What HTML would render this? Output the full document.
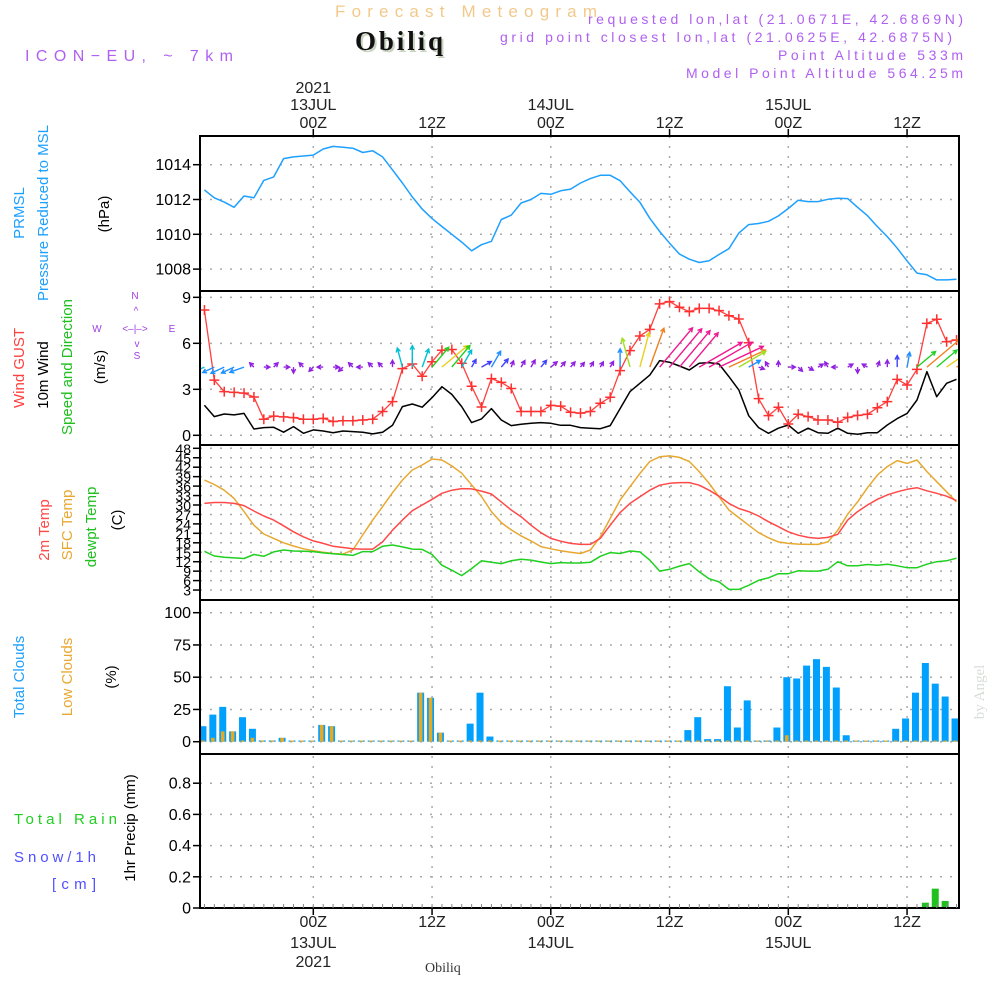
<!DOCTYPE html>
<html><head><meta charset="utf-8"><style>
html,body{margin:0;padding:0;background:#fff;}
svg{display:block;font-family:"Liberation Sans",sans-serif;}
</style></head><body>
<svg id="chart" width="1000" height="1000" viewBox="0 0 1000 1000" xmlns="http://www.w3.org/2000/svg">
<defs>
<clipPath id="clipAll"><rect x="200" y="136" width="759" height="772"/></clipPath>
</defs>
<g>
<text x="335" y="17" textLength="262" font-size="17" fill="#f2c98a">Forecast Meteogram</text>
<text x="357" y="52" textLength="88" font-family="Liberation Serif,serif" font-weight="bold" font-size="27" fill="#c8d4c0">Obiliq</text>
<text x="355" y="50" textLength="88" font-family="Liberation Serif,serif" font-weight="bold" font-size="27" fill="#111">Obiliq</text>
<text x="25" y="61" textLength="208" font-size="16" fill="#b060f0">ICON−EU, ~ 7km</text>
<text x="588" y="24" textLength="375" font-size="14" fill="#b060f0">requested lon,lat (21.0671E, 42.6869N)</text>
<text x="500" y="42" textLength="452" font-size="14" fill="#b060f0">grid point closest lon,lat (21.0625E, 42.6875N)</text>
<text x="778" y="60" textLength="185" font-size="14" fill="#b060f0">Point Altitude 533m</text>
<text x="686" y="78" textLength="277" font-size="14" fill="#b060f0">Model Point Altitude 564.25m</text>
</g>
<g font-size="15">
<text transform="translate(24,213) rotate(-90)" text-anchor="middle" fill="#1ea0ff">PRMSL</text>
<text transform="translate(48,213) rotate(-90)" text-anchor="middle" fill="#1ea0ff">Pressure Reduced to MSL</text>
<text transform="translate(109,214) rotate(-90)" text-anchor="middle" fill="#000">(hPa)</text>
<text transform="translate(24,368) rotate(-90)" text-anchor="middle" fill="#ff4040">Wind GUST</text>
<text transform="translate(48,375) rotate(-90)" text-anchor="middle" fill="#000">10m Wind</text>
<text transform="translate(72,367) rotate(-90)" text-anchor="middle" fill="#20c020">Speed and Direction</text>
<text transform="translate(105,367) rotate(-90)" text-anchor="middle" fill="#000">(m/s)</text>
<g fill="#a040e0" font-size="10" text-anchor="middle">
<text x="135" y="299">N</text><text x="136" y="314">^</text><text x="97" y="332">W</text><text x="135" y="332">&lt;–|–&gt;</text><text x="172" y="332">E</text><text x="137" y="347">v</text><text x="137" y="359">S</text>
</g>
<text transform="translate(49,530) rotate(-90)" text-anchor="middle" fill="#ff4848">2m Temp</text>
<text transform="translate(72,525) rotate(-90)" text-anchor="middle" fill="#e8a830">SFC Temp</text>
<text transform="translate(96,527) rotate(-90)" text-anchor="middle" fill="#20c020">dewpt Temp</text>
<text transform="translate(122,520) rotate(-90)" text-anchor="middle" fill="#000">(C)</text>
<text transform="translate(24,677) rotate(-90)" text-anchor="middle" fill="#1ea0ff">Total Clouds</text>
<text transform="translate(72,677) rotate(-90)" text-anchor="middle" fill="#e8a830">Low Clouds</text>
<text transform="translate(116,677) rotate(-90)" text-anchor="middle" fill="#000">(%)</text>
<text x="14" y="824" textLength="103" fill="#20d020">Total   Rain</text>
<text x="14" y="862" textLength="82" fill="#5050ff">Snow/1h</text>
<text x="52" y="889" textLength="44" fill="#5050ff">[cm]</text>
<text transform="translate(135,828) rotate(-90)" text-anchor="middle" fill="#000">1hr Precip (mm)</text>
</g>
<g id="grid"></g>
<g id="marks" clip-path="url(#clipAll)"></g>
<g id="axes"></g>
<text transform="translate(984,692) rotate(-90)" text-anchor="middle" font-family="Liberation Serif,serif" font-size="15" fill="#d8ddd8">by Angel</text>
<text x="425" y="972" font-family="Liberation Serif,serif" font-size="14" fill="#333">Obiliq</text>
</svg>
<script>
const hours = Array.from({length:77},(_,i)=>i-11);
const pressure = [1012.55,1012.1,1011.85,1011.55,1012.2,1012.1,1013.1,1013.3,1014.35,1014.45,1014.5,1014.55,1014.9,1015.05,1015.0,1014.95,1014.7,1014.8,1014.45,1013.7,1012.95,1012.15,1011.45,1010.9,1010.45,1010.0,1009.55,1009.05,1009.4,1009.6,1010.85,1011.1,1011.8,1012.0,1012.35,1012.3,1012.5,1012.6,1012.95,1013.2,1013.39,1013.39,1013.08,1012.45,1011.84,1010.92,1010.16,1009.49,1008.86,1008.57,1008.38,1008.48,1008.84,1009.17,1010.07,1010.56,1010.62,1010.75,1011.06,1011.48,1011.96,1011.88,1011.88,1012.01,1012.07,1012.05,1011.55,1011.07,1010.44,1009.87,1009.2,1008.47,1007.77,1007.67,1007.38,1007.38,1007.42];
const gust = [8.17,3.6,2.85,2.8,2.75,2.5,1.05,1.25,1.2,1.15,1.05,1.05,1.1,0.9,0.95,0.95,1.0,1.05,1.55,2.2,4.35,4.65,3.85,4.8,5.55,5.6,4.7,3.2,1.85,3.7,3.45,3.05,1.55,1.55,1.55,1.95,1.9,1.5,1.45,1.55,2.09,2.48,4.22,5.52,6.48,6.91,8.57,8.72,8.35,8.07,8.28,8.28,8.13,7.8,7.59,6.04,2.39,1.28,1.83,0.74,1.37,1.22,1.0,1.0,0.85,1.17,1.3,1.37,1.8,2.2,3.65,3.28,4.3,7.3,7.57,6.1,6.22];
const wind10 = [1.96,1.22,1.39,1.33,1.43,0.41,0.5,0.52,0.2,0.57,0.13,0.35,0.28,0.17,0.28,0.24,0.2,0.09,0.2,0.65,1.87,2.04,1.83,2.46,3.17,2.67,1.87,0.83,1.07,1.74,1.0,0.63,0.72,0.78,0.83,0.78,0.65,0.65,0.5,0.46,0.43,0.63,1.74,2.85,3.39,3.93,4.87,4.76,4.52,4.26,4.7,4.74,4.65,3.83,2.96,1.28,0.5,0.13,0.46,0.67,0.13,0.46,0.17,0.13,0.46,0.13,0.07,0.17,0.17,0.67,1.09,1.43,2.3,4.15,2.52,3.39,3.65];
const windDir = [245,245,245,245,250,315,90,45,90,180,315,225,270,90,225,315,270,315,315,0,345,0,20,40,50,40,30,30,60,30,40,20,30,30,40,50,40,40,40,30,30,30,0,345,15,20,40,40,40,40,60,60,65,65,60,60,110,330,0,90,135,120,60,330,270,60,180,300,20,0,0,10,50,50,50,55,60];
const temp2m = [30.5,30.8,30.8,30.5,29.8,28.1,26.5,25.2,23.4,21.5,19.9,18.6,17.8,16.9,16.5,16.1,16.0,16.0,18.3,22.0,25.2,28.2,30.0,31.8,33.7,34.7,35.2,35.1,34.4,33.5,31.0,28.4,26.3,23.6,21.2,19.4,18.5,17.8,17.5,17.5,19.4,23.6,27.6,30.5,32.6,34.7,36.3,36.9,37.1,37.1,36.3,34.7,32.8,30.5,28.9,27.9,26.5,24.7,23.1,21.5,20.4,19.7,19.4,19.7,20.7,25.2,27.9,30.0,31.8,33.2,34.2,35.0,35.5,34.5,33.7,32.8,31.4];
const tempSfc = [37.9,36.5,34.7,32.1,27.9,23.6,20.8,19.4,18.0,17.0,16.1,15.5,15.0,14.6,14.4,15.7,20.5,25.2,29.5,33.9,37.9,41.1,42.7,44.6,44.3,42.4,40.1,36.4,32.7,27.9,24.4,22.1,20.2,18.6,16.8,16.1,15.5,15.0,14.6,15.7,19.9,25.7,31.6,35.8,40.0,43.8,45.3,45.6,45.1,43.8,40.6,36.9,32.6,28.4,26.0,23.6,21.2,19.6,18.3,17.8,17.6,17.5,17.5,18.3,22.0,27.1,31.0,35.5,39.5,42.2,44.1,43.2,44.3,40.6,37.4,34.2,31.0];
const dewpt = [15.3,13.8,13.4,13.2,13.0,14.3,13.7,15.1,15.7,15.4,15.3,15.2,14.8,14.5,14.3,14.0,15.2,15.2,16.9,17.3,16.7,16.0,15.9,14.3,10.9,9.3,7.6,9.8,12.3,11.8,11.4,12.3,12.8,12.5,11.9,11.4,11.7,11.6,11.6,11.8,13.7,14.9,14.6,15.4,15.1,12.5,9.0,9.6,10.6,11.4,8.8,6.6,5.6,3.2,3.2,4.5,6.1,6.9,8.2,8.2,9.1,9.0,9.0,9.6,12.0,10.7,10.7,11.1,10.9,11.2,10.7,10.1,10.1,11.2,12.0,12.3,13.1];
const totalCloud = [12,21,27,8,19,10,1,1,3,0,0,0,13,12,0,0,0,0,0,0,0,0,38,34,7,0,0,14,38,4,0,0,0,0,0,0,0,0,0,0,0,0,0,0,0,0,0,0,0,9,19,2,2,43,11,32,0.5,1,11,50,49,59,64,58,42,5,0,0,0,0,10,18,38,61,45,35,18];
const lowCloud = [0,3,8,8,0,3,0.5,0.5,3,0,0,0,13,12,0,0,0,0,0,0,0,0,38,34,7,0,0,0,0,0,0,0,0,0,0,0,0,0,0,0,0,0,0,0,0,0,0,0,0,0,0,0,0,0,0,0,0,0,1,5,0,0,0,0,0,0,0,0,0,0,0,0,0,0,0,0,0];
const precip = [0,0,0,0,0,0,0,0,0,0,0,0,0,0,0,0,0,0,0,0,0,0,0,0,0,0,0,0,0,0,0,0,0,0,0,0,0,0,0,0,0,0,0,0,0,0,0,0,0,0,0,0,0,0,0,0,0,0,0,0,0,0,0,0,0,0,0,0,0,0,0,0,0,0.034,0.124,0.045,0.006];
const pTicks = [1008,1010,1012,1014];
const wTicks = [0,3,6,9];
const tTicks = [3,6,9,12,15,18,21,24,27,30,33,36,39,42,45,48];
const cTicks = [0,25,50,75,100];
const rTicks = [0,0.2,0.4,0.6,0.8];
const timeTickHours = [0,12,24,36,48,60];
const timeTickLabels = ['00Z','12Z','00Z','12Z','00Z','12Z'];
const dateLabels = ['13JUL','','14JUL','','15JUL',''];

const NS='http://www.w3.org/2000/svg';
const X0=200, X1=959;
const xS = h => 313.3 + h*9.896;
const yP = p => 164.7 + (1014-p)*17.4;
const yW = w => 435.3 - w*15.33;
const yT = t => 448.3 + (48-t)*3.15;
const yC = c => 741.7 - c*1.29;
const yR = r => 908 - r*156;
const panels = [
 {top:136,bot:291,ticks:pTicks,y:yP,fmt:v=>String(v),name:'pressure'},
 {top:291,bot:445,ticks:wTicks,y:yW,fmt:v=>String(v),name:'wind'},
 {top:445,bot:600,ticks:tTicks,y:yT,fmt:v=>String(v),name:'temp'},
 {top:600,bot:754,ticks:cTicks,y:yC,fmt:v=>String(v),name:'cloud'},
 {top:754,bot:908,ticks:rTicks,y:yR,fmt:v=>v===0?'0':v.toFixed(1),name:'precip'}
];
function mk(tag,attrs,parent,txt){const e=document.createElementNS(NS,tag);for(const k in attrs)e.setAttribute(k,attrs[k]);if(txt!==undefined)e.textContent=txt;parent.appendChild(e);return e;}
const grid=document.getElementById('grid'), marks=document.getElementById('marks'), axes=document.getElementById('axes');

panels.forEach(p=>{
  p.ticks.forEach(v=>{
    const y=p.y(v);
    if(y>p.top+3 && y<p.bot-3){
      const gl=mk('line',{x1:X0,x2:X1,y1:y,y2:y,stroke:'#aaa','stroke-width':1.5,'stroke-dasharray':'2,8'},grid);
      
      
    }
    const tk=mk('line',{x1:X0-7,x2:X0,y1:y,y2:y,stroke:'#000','stroke-width':1.5},axes);
    
    
    const tl=mk('text',{x:X0-9,y:y+5.5,'text-anchor':'end','font-size':p.name==='temp'?14:16,fill:'#000'},axes,p.fmt(v));
    
    
  });
  const fr=mk('rect',{x:X0,y:p.top,width:X1-X0,height:p.bot-p.top,fill:'none',stroke:'#000','stroke-width':2},axes);
  
  
});
timeTickHours.forEach((h,k)=>{
  const x=xS(h);
  const vl=mk('line',{x1:x,x2:x,y1:136,y2:908,stroke:'#aaa','stroke-width':1.5,'stroke-dasharray':'2,8'},grid);
  
  
  const t1=mk('line',{x1:x,x2:x,y1:129,y2:136,stroke:'#000','stroke-width':1.5},axes);
  
  
  const t2=mk('line',{x1:x,x2:x,y1:908,y2:915,stroke:'#000','stroke-width':1.5},axes);
  
  
  const a=mk('text',{x:x,y:128,'text-anchor':'middle','font-size':16,fill:'#222'},axes,timeTickLabels[k]);
  
  
  const b=mk('text',{x:x,y:927,'text-anchor':'middle','font-size':16,fill:'#222'},axes,timeTickLabels[k]);
  
  
  if(dateLabels[k]){
    const c=mk('text',{x:x,y:110,'text-anchor':'middle','font-size':16,fill:'#222'},axes,dateLabels[k]);
    
    
    const d=mk('text',{x:x,y:948,'text-anchor':'middle','font-size':16,fill:'#222'},axes,dateLabels[k]);
    
    
  }
  if(k===0){
    const e=mk('text',{x:x,y:93,'text-anchor':'middle','font-size':16,fill:'#222'},axes,'2021');
    
    
    const f=mk('text',{x:x,y:967,'text-anchor':'middle','font-size':16,fill:'#222'},axes,'2021');
    
    
  }
});
hours.forEach(h=>{
  const t=mk('line',{x1:xS(h),x2:xS(h),y1:904,y2:908,stroke:'#888','stroke-width':1},axes);
  
  
});

function line(vals,yf,color,name,w){
  const d=vals.map((v,i)=>(i?'L':'M')+xS(hours[i]).toFixed(1)+','+yf(v).toFixed(1)).join('');
  const p=mk('path',{d:d,fill:'none',stroke:color,'stroke-width':w||1.5,'stroke-linejoin':'round'},marks);
  
  
  return p;
}
line(pressure,yP,'#1ea0ff','pressure-line');
line(wind10,yW,'#000','wind10-line');
line(gust,yW,'#ff4040','gust-line',1.3);
gust.forEach((v,i)=>{
  const x=xS(hours[i]), y=yW(v);
  const m=mk('path',{d:`M${x-5},${y}H${x+5}M${x},${y-5}V${y+5}`,stroke:'#ff3030','stroke-width':1.5},marks);
  
  
});
function wcol(s){
  if(s<0.8)return '#9020e0'; if(s<1.2)return '#4040ff'; if(s<1.8)return '#1e90ff';
  if(s<2.2)return '#00c0d0'; if(s<2.7)return '#20d020'; if(s<3.1)return '#a0e020';
  if(s<3.5)return '#e8d020'; if(s<4.2)return '#f08020'; return '#f01890';
}
wind10.forEach((s,i)=>{
  const x0=xS(hours[i]), y0=yW(4.45);
  const L=Math.max(6,s*10.5);
  const a=windDir[i]*Math.PI/180;
  const x1=x0+L*Math.sin(a), y1=y0-L*Math.cos(a);
  const hl=4.5, ang=Math.atan2(y1-y0,x1-x0);
  const hx1=x1-hl*Math.cos(ang-0.5), hy1=y1-hl*Math.sin(ang-0.5);
  const hx2=x1-hl*Math.cos(ang+0.5), hy2=y1-hl*Math.sin(ang+0.5);
  const ar=mk('path',{d:`M${x0.toFixed(1)},${y0.toFixed(1)}L${x1.toFixed(1)},${y1.toFixed(1)}M${hx1.toFixed(1)},${hy1.toFixed(1)}L${x1.toFixed(1)},${y1.toFixed(1)}L${hx2.toFixed(1)},${hy2.toFixed(1)}`,fill:'none',stroke:wcol(s),'stroke-width':1.4},marks);
  
  
});
line(tempSfc,yT,'#e8a830','sfc-temp-line');
line(temp2m,yT,'#ff4848','temp2m-line');
line(dewpt,yT,'#20d020','dewpt-line');
totalCloud.forEach((v,i)=>{
  const x=xS(hours[i])-1.5, y=yC(v), h=Math.max(1.2,yC(0)-y);
  const b=mk('rect',{x:x-3.5,y:yC(0)-h,width:7,height:h,fill:'#00a0ff'},marks);
  
  
});
lowCloud.forEach((v,i)=>{
  const x=xS(hours[i])-1.5, h=Math.max(1.2,yC(0)-yC(v));
  const b=mk('rect',{x:x-1.8,y:yC(0)-h,width:3.6,height:h,fill:'#e8a820'},marks);
  
  
});
precip.forEach((v,i)=>{
  if(v<=0)return;
  const x=xS(hours[i])-1.5, h=yR(0)-yR(v);
  const b=mk('rect',{x:x-3.5,y:yR(0)-h,width:7,height:h,fill:'#20c020'},marks);
  
  
});
</script>
</body></html>
